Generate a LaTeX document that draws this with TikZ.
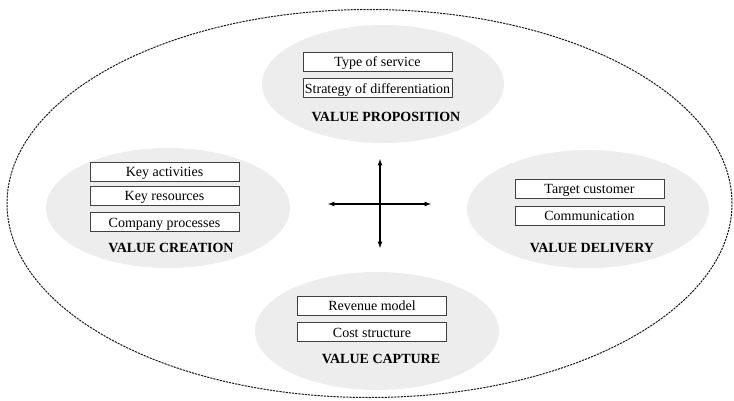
\documentclass[tikz,border=0pt]{standalone}
\usepackage{fontspec}
\setmainfont{Liberation Serif}
\usetikzlibrary{arrows}

\tikzset{
  blob/.style={fill=black!7},
  box/.style={draw=black!75, line width=1pt, fill=white, minimum width=149pt,
              minimum height=19pt, inner sep=0pt, text height=12pt, text depth=2pt,
              font=\fontsize{14}{16}\selectfont},
  title/.style={font=\fontsize{14}{16}\selectfont\bfseries}
}

\begin{document}
\begin{tikzpicture}[x=1pt,y=-1pt]
       \useasboundingbox (0,0) rectangle (734,400);

       %outer dashed ellipse
       \draw[black!90, line width=1pt, dash pattern=on 2.2pt off 1pt]
            (369.5,203.5) ellipse [x radius=362.5pt, y radius=194pt];

       %grey blobs
       \fill[blob] (383,84) ellipse [x radius=121pt, y radius=59pt];
       \fill[blob] (168,208) ellipse [x radius=122pt, y radius=60pt];
       \fill[blob] (588,209) ellipse [x radius=121pt, y radius=59pt];
       \fill[blob] (377,331) ellipse [x radius=122pt, y radius=59pt];

       %value proposition
       \node[box] (service) at (377.5,61.5) {Type of service};
       \node[box] (strategy) at (377.5,88) {Strategy of differentiation};
       \node[title] (proposition) at (386,117) {VALUE PROPOSITION};

       %value creation
       \node[box] (activities) at (164.5,171.5) {Key activities};
       \node[box] (resources) at (164.5,195.5) {Key resources};
       \node[box] (processes) at (164.5,222) {Company processes};
       \node[title] (creation) at (171,248) {VALUE CREATION};

       %value delivery
       \node[box] (customer) at (589.5,188.5) {Target customer};
       \node[box] (communication) at (589.5,215.5) {Communication};
       \node[title] (delivery) at (592,248) {VALUE DELIVERY};

       %value capture
       \node[box] (revenue) at (372,305.5) {Revenue model};
       \node[box] (cost) at (372,332) {Cost structure};
       \node[title] (capture) at (381,359) {VALUE CAPTURE};

       %cross in the middle
       \coordinate (n) at (380,159);
       \coordinate (s) at (380,248);
       \coordinate (w) at (328,204);
       \coordinate (e) at (431,204);
       \draw[>=latex,<->,line width=1.2pt] (n)--(s);
       \draw[>=latex,<->,line width=1.2pt] (w)--(e);

\end{tikzpicture}
\end{document}
